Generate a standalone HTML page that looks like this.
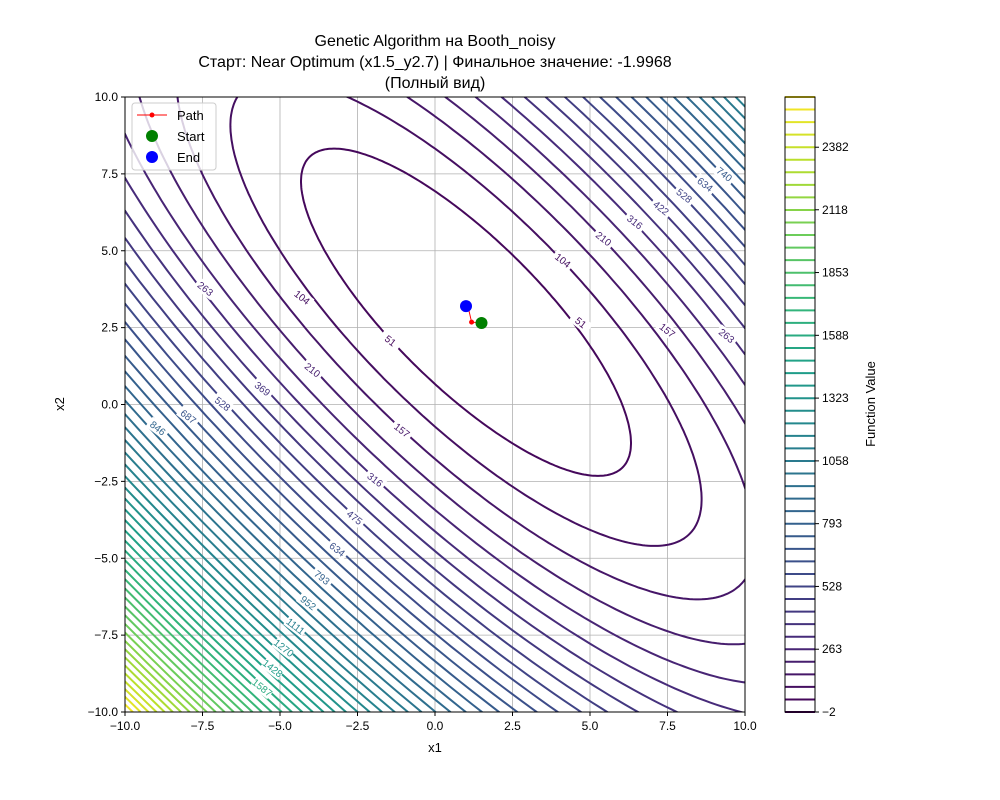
<!DOCTYPE html>
<html><head><meta charset="utf-8"><style>
html,body{margin:0;background:#fff;overflow:hidden;font-family:"Liberation Sans","DejaVu Sans",sans-serif}
svg{display:block}
</style></head><body>
<svg id="chart" width="1000" height="800" xmlns="http://www.w3.org/2000/svg" font-family="Liberation Sans, DejaVu Sans, sans-serif">
<rect width="1000" height="800" fill="#fff"/>
<text x="435" y="46" font-size="16" text-anchor="middle">Genetic Algorithm на Booth_noisy</text>
<text x="435" y="67" font-size="16" text-anchor="middle">Старт: Near Optimum (x1.5_y2.7) | Финальное значение: -1.9968</text>
<text x="435" y="88" font-size="16" text-anchor="middle">(Полный вид)</text>
<defs><clipPath id="clip"><rect x="125" y="97" width="620" height="615"/></clipPath></defs>
<g id="grid"></g>
<g id="contours" clip-path="url(#clip)"></g>
<g id="labels"></g>
<g id="path"></g>
<rect x="125" y="97" width="620" height="615" fill="none" stroke="#000" stroke-width="1"/>
<g id="axes"></g>
<text x="435" y="752" font-size="13" text-anchor="middle">x1</text>
<text x="64" y="404" font-size="13" text-anchor="middle" transform="rotate(-90 64 404)">x2</text>
<g id="legend">
<rect x="132" y="103" width="84" height="67" rx="3" fill="#fff" fill-opacity="0.8" stroke="#ccc"/>
<line x1="137" y1="115" x2="167" y2="115" stroke="red" stroke-width="1"/><circle cx="152" cy="115" r="2.5" fill="red"/>
<text x="177" y="120" font-size="13">Path</text>
<circle cx="152" cy="136" r="6" fill="green"/>
<text x="177" y="141" font-size="13">Start</text>
<circle cx="152" cy="157" r="6" fill="blue"/>
<text x="177" y="162" font-size="13">End</text>
</g>
<g id="cbar"></g>
<text x="875" y="404" font-size="13" text-anchor="middle" transform="rotate(-90 875 404)">Function Value</text>
</svg>
<script>
const zMin = -2;
const zMax = 2594;
const levelCount = 50;
const xTicks = [-10,-7.5,-5,-2.5,0,2.5,5,7.5,10];
const yTicks = [-10,-7.5,-5,-2.5,0,2.5,5,7.5,10];
const cbarTicks = [-2,263,528,793,1058,1323,1588,1853,2118,2382];
const pathX = [1.5,1.18,1.05,1.0];
const pathY = [2.65,2.68,3.25,3.2];
const startPt = [1.5,2.65];
const endPt = [1.0,3.2];
const center = [1,3];

const NS="http://www.w3.org/2000/svg";
const X=v=>435+v*31, Y=v=>404.5-v*30.75;
function mk(tag,attrs,parent,txt){const e=document.createElementNS(NS,tag);for(const k in attrs)e.setAttribute(k,attrs[k]);if(txt!==undefined)e.textContent=txt;parent.appendChild(e);return e;}
const vir=[[68,1,84],[72,40,120],[62,74,137],[49,104,142],[38,130,142],[31,158,137],[53,183,121],[109,205,89],[180,222,44],[253,231,37]];
function col(t){t=Math.max(0,Math.min(1,t))*9;const i=Math.min(8,Math.floor(t)),f=t-i;const c=vir[i].map((a,k)=>Math.round(a+(vir[i+1][k]-a)*f));return `rgb(${c})`;}
const levels=[];for(let i=0;i<levelCount;i++)levels.push(zMin+(zMax-zMin)*i/(levelCount-1));

const grid=document.getElementById('grid'),axes=document.getElementById('axes');
xTicks.forEach(t=>{mk('line',{x1:X(t),x2:X(t),y1:97,y2:712,stroke:'#b0b0b0','stroke-width':0.8},grid);
 mk('line',{x1:X(t),x2:X(t),y1:712,y2:716,stroke:'#000'},axes);
 const e=mk('text',{x:X(t),y:730,'font-size':12,'text-anchor':'middle'},axes,t.toFixed(1).replace('-','−'));
 });
yTicks.forEach(t=>{mk('line',{y1:Y(t),y2:Y(t),x1:125,x2:745,stroke:'#b0b0b0','stroke-width':0.8},grid);
 mk('line',{y1:Y(t),y2:Y(t),x1:121,x2:125,stroke:'#000'},axes);
 const e=mk('text',{x:118,y:Y(t)+4,'font-size':12,'text-anchor':'end'},axes,t.toFixed(1).replace('-','−'));
 });

const cg=document.getElementById('contours'),lg=document.getElementById('labels');
const s2=Math.SQRT1_2;
levels.forEach((c,i)=>{
 if(c<=0)return;
 const a=Math.sqrt(c/9),b=Math.sqrt(c),t=(c-zMin)/(zMax-zMin);
 let d='';
 for(let k=0;k<=360;k++){const th=k*Math.PI/180;const u=a*Math.cos(th),v=b*Math.sin(th);
  const x=center[0]+(u+v)*s2,y=center[1]+(u-v)*s2;d+=(k?'L':'M')+X(x).toFixed(1)+' '+Y(y).toFixed(1);}
 const p=mk('path',{d:d,fill:'none',stroke:col(t),'stroke-width':2},cg);
 
 const offs=[[-1,(i%3)*0.25-0.1],[1,0.1+(i%2)*0.3]];
 offs.forEach(([sgn,off])=>{
  const u=sgn*a,v=off*b*sgn;
  const x=center[0]+(u+v)*s2,y=center[1]+(u-v)*s2;
  if(x<-9.6||x>9.6||y<-9.7||y>9.7)return;
  const px=X(x),py=Y(y);
  mk('rect',{x:px-11,y:py-6,width:22,height:12,fill:'#fff',transform:`rotate(38 ${px} ${py})`},lg);
  const e=mk('text',{x:px,y:py+3.5,'font-size':10,'text-anchor':'middle',fill:col(t),transform:`rotate(38 ${px} ${py})`},lg,Math.round(c));
  
 });
});

const pg=document.getElementById('path');
let pd='';pathX.forEach((x,i)=>{pd+=(i?'L':'M')+X(x)+' '+Y(pathY[i]);});
mk('path',{d:pd,fill:'none',stroke:'red','stroke-width':1},pg);
pathX.forEach((x,i)=>mk('circle',{cx:X(x),cy:Y(pathY[i]),r:2.5,fill:'red'},pg));
const sp=mk('circle',{cx:X(startPt[0]),cy:Y(startPt[1]),r:6,fill:'green'},pg);

const ep=mk('circle',{cx:X(endPt[0]),cy:Y(endPt[1]),r:6,fill:'blue'},pg);


const cb=document.getElementById('cbar');
const CY=v=>712-(v-zMin)/(zMax-zMin)*(712-97);
levels.forEach(c=>{const l=mk('line',{x1:785,x2:815,y1:CY(c),y2:CY(c),stroke:col((c-zMin)/(zMax-zMin)),'stroke-width':2},cb);
 });
mk('rect',{x:785,y:97,width:30,height:615,fill:'none',stroke:'#000'},cb);
cbarTicks.forEach(t=>{mk('line',{x1:815,x2:819,y1:CY(t),y2:CY(t),stroke:'#000'},cb);
 const e=mk('text',{x:822,y:CY(t)+4,'font-size':12},cb,String(t).replace('-','−'));
 });
</script>
</body></html>
